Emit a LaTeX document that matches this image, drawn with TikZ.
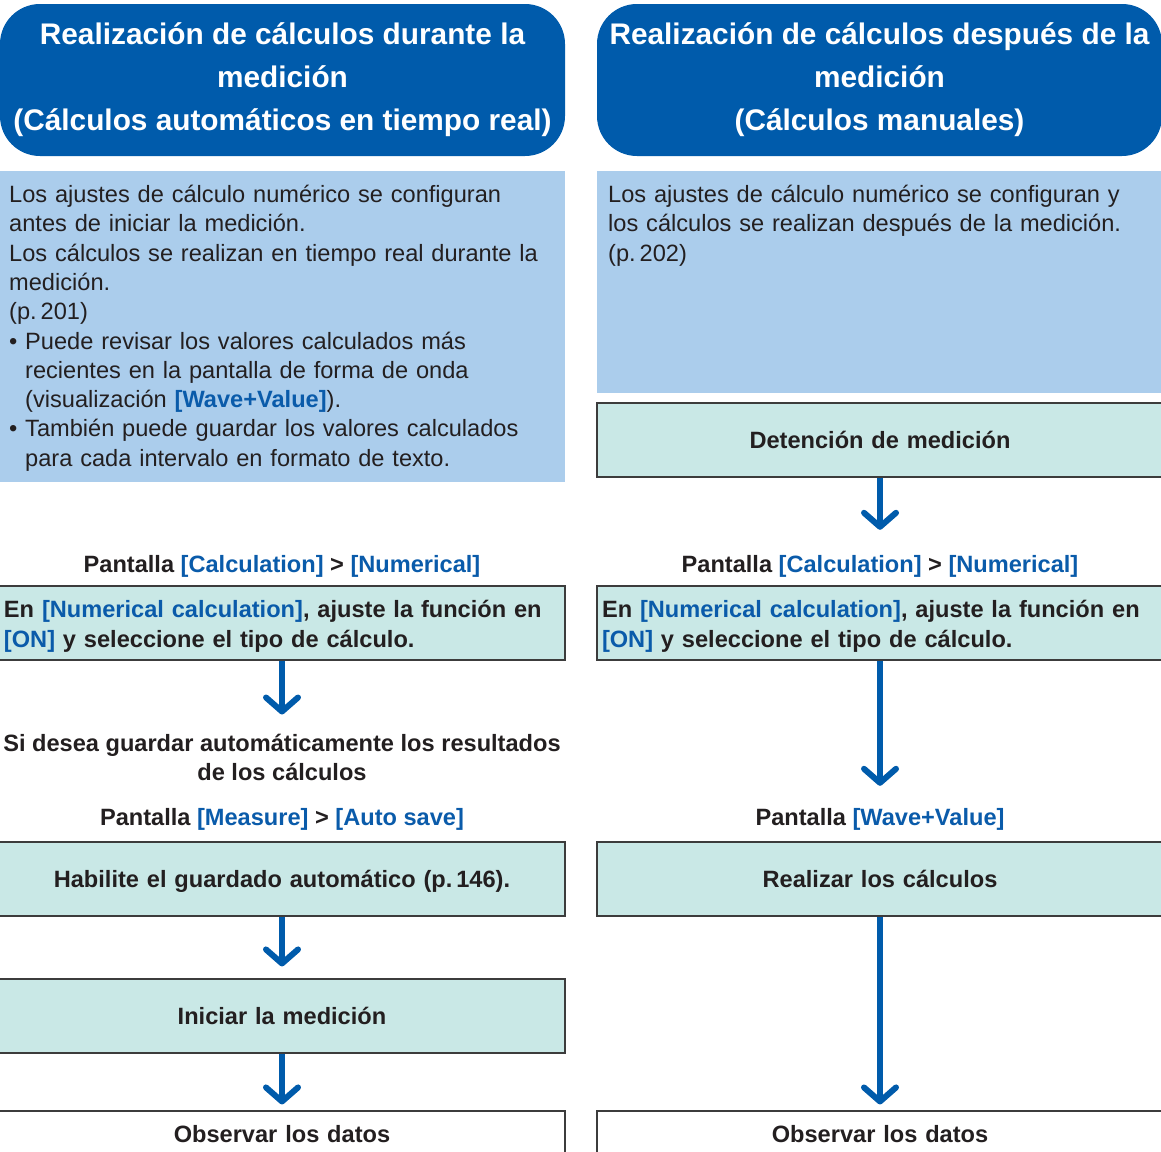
\documentclass[tikz,border=0pt]{standalone}
\usepackage{fontspec}
\setmainfont{Liberation Sans}
\usetikzlibrary{arrows.meta}

\definecolor{hdrblue}{HTML}{005BAB}
\definecolor{noteblue}{HTML}{ABCDEC}
\definecolor{stepteal}{HTML}{C9E8E6}
\definecolor{linkblue}{HTML}{0A5BAA}
\definecolor{edgegray}{HTML}{3C3C3C}
\definecolor{inkblack}{HTML}{231F20}

\newcommand{\bodysize}{\fontsize{23.6}{29.3}\selectfont}
\newcommand{\uikey}[1]{\textcolor{linkblue}{\bfseries #1}}
\newcommand{\bulletline}{\hangindent=16pt\hangafter=1\makebox[16pt][l]{•}}

\begin{document}
\begin{tikzpicture}[x=1pt,y=-1pt,
    header/.style={fill=hdrblue, rounded corners=40pt, text=white, font=\bfseries\fontsize{29.8}{43}\selectfont, align=center, minimum width=565pt, minimum height=152pt, inner sep=0pt},
    note/.style={anchor=north west, text=inkblack, font=\bodysize, text width=552pt, align=left, inner sep=0pt},
    stepbox/.style={fill=stepteal, draw=edgegray, line width=1.1pt, minimum height=74pt, text width=556pt, text depth=0pt, inner xsep=5pt, inner ysep=0pt, text=inkblack, font=\bfseries\fontsize{23.6}{30}\selectfont, align=center},
    twoline/.style={align=left, text depth=29pt},
    endbox/.style={stepbox, fill=white, minimum height=46pt},
    caption/.style={text=inkblack, font=\bfseries\bodysize, align=center, inner sep=0pt},
    flow/.style={draw=hdrblue, line width=6pt, -{Straight Barb[length=14pt,width=32pt,round]}}
]
    \useasboundingbox (0,0) rectangle (1161,1151);

    % column headers
    \node[header] (hdrL) at (282.5,80) {Realización de cálculos durante la\\medición\\(Cálculos automáticos en tiempo real)};
    \node[header] (hdrR) at (879.5,80) {Realización de cálculos después de la\\medición\\(Cálculos manuales)};

    % notes
    \fill[noteblue] (0,171) rectangle (565,482);
    \fill[noteblue] (597,171) rectangle (1161,393);
    \node[note] (noteL) at (9,185) {Los ajustes de cálculo numérico se configuran\\antes de iniciar la medición.\\Los cálculos se realizan en tiempo real durante la\\medición.\\(p.\,201)\par
        \bulletline Puede revisar los valores calculados más\newline recientes en la pantalla de forma de onda\newline (visualización \uikey{[Wave+Value]}).\par
        \bulletline También puede guardar los valores calculados\newline para cada intervalo en formato de texto.\par};
    \node[note] (noteR) at (608,185) {Los ajustes de cálculo numérico se configuran y\\los cálculos se realizan después de la medición.\\(p.\,202)};

    % left column
    \node[caption] (scrCalcL) at (282,566) {Pantalla \uikey{[Calculation]} > \uikey{[Numerical]}};
    \node[stepbox, twoline] (numL) at (282,623) {En \uikey{[Numerical calculation]}, ajuste la función en\\\uikey{[ON]} y seleccione el tipo de cálculo.};
    \node[caption, text depth=0pt] (autoL) at (282,757) {Si desea guardar automáticamente los resultados\\de los cálculos};
    \node[caption] (scrSaveL) at (282,819) {Pantalla \uikey{[Measure]} > \uikey{[Auto save]}};
    \node[stepbox] (saveL) at (282,879) {Habilite el guardado automático (p.\,146).};
    \node[stepbox] (startL) at (282,1016) {Iniciar la medición};
    \node[endbox] (viewL) at (282,1134) {Observar los datos};

    % right column
    \node[stepbox] (stopR) at (880,440) {Detención de medición};
    \node[caption] (scrCalcR) at (880,566) {Pantalla \uikey{[Calculation]} > \uikey{[Numerical]}};
    \node[stepbox, twoline] (numR) at (880,623) {En \uikey{[Numerical calculation]}, ajuste la función en\\\uikey{[ON]} y seleccione el tipo de cálculo.};
    \node[caption] (scrWaveR) at (880,819) {Pantalla \uikey{[Wave+Value]}};
    \node[stepbox] (calcR) at (880,879) {Realizar los cálculos};
    \node[endbox] (viewR) at (880,1134) {Observar los datos};

    % arrows
    \draw[flow, shorten >=25pt] (stopR) -- (scrCalcR);
    \draw[flow, shorten >=19pt] (numL) -- (autoL);
    \draw[flow, shorten >=22pt] (numR) -- (scrWaveR);
    \draw[flow, shorten >=12pt] (saveL) -- (startL);
    \draw[flow, shorten >=6pt] (startL) -- (viewL);
    \draw[flow, shorten >=6pt] (calcR) -- (viewR);
\end{tikzpicture}
\end{document}
